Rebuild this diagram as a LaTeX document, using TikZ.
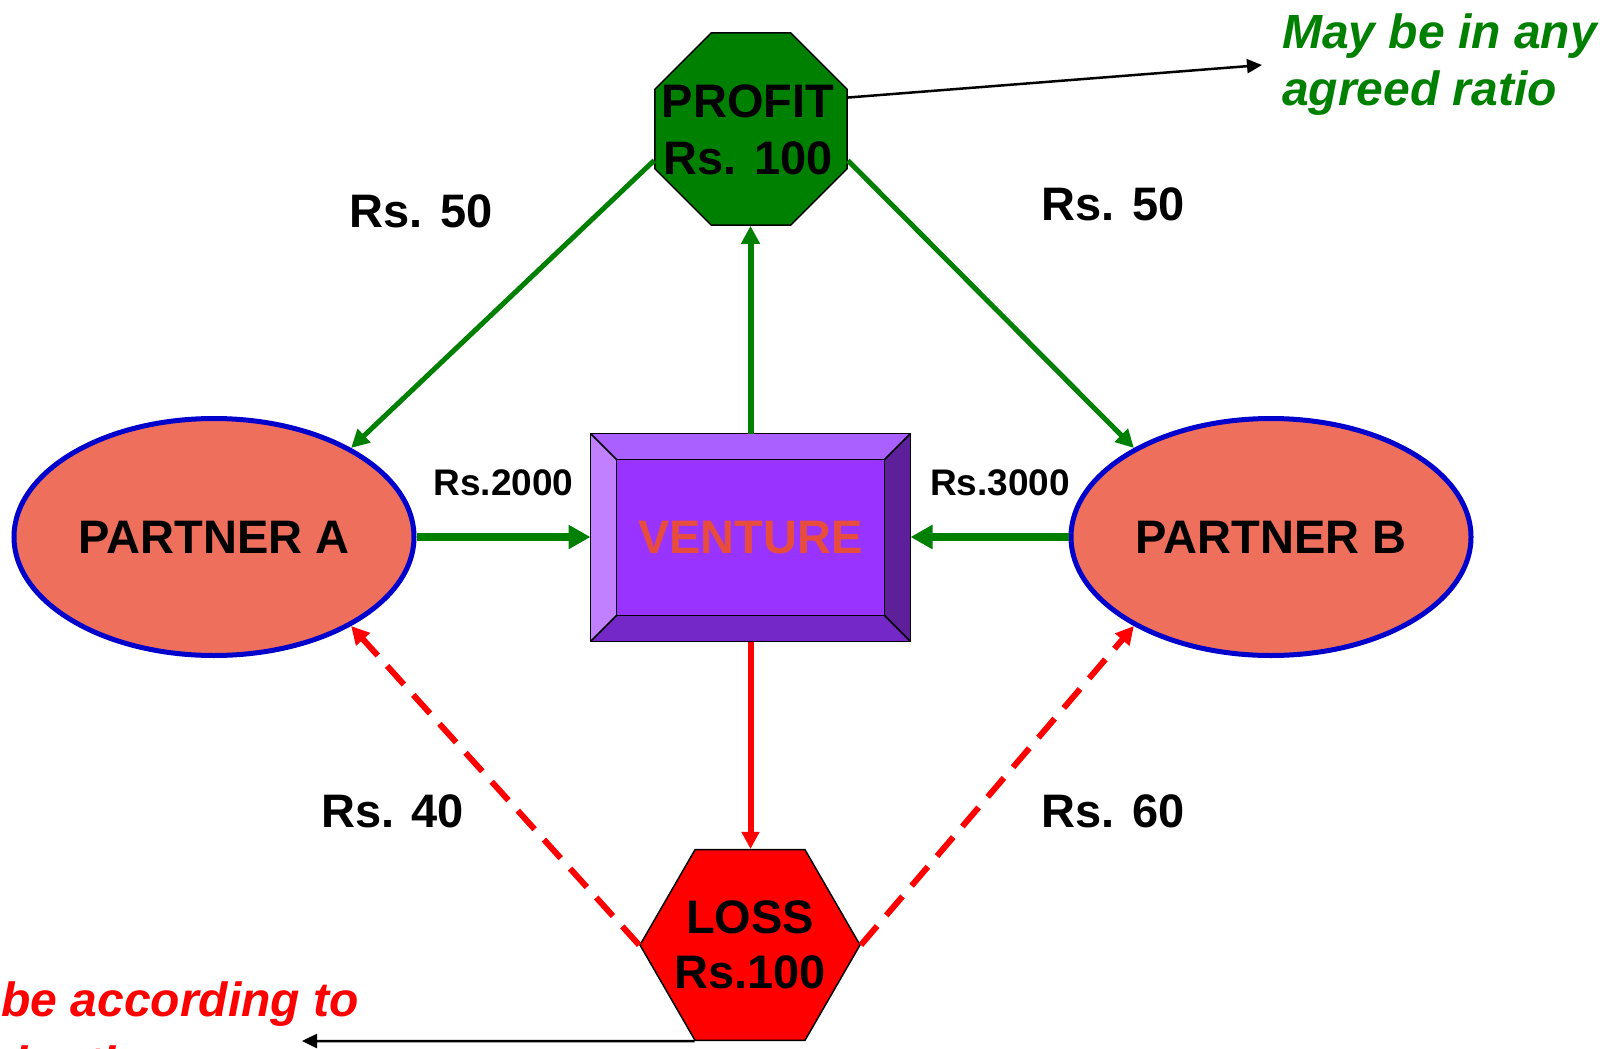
\documentclass[tikz,border=0pt]{standalone}
\usepackage{fontspec}
\setmainfont{Liberation Sans}
\usetikzlibrary{shapes.geometric,arrows.meta,calc}

\definecolor{leafgreen}{HTML}{008000}
\definecolor{partnerfill}{HTML}{EE6F5C}
\definecolor{partnerline}{HTML}{0000CC}
\definecolor{bevtop}{HTML}{AA5FFF}
\definecolor{bevleft}{HTML}{C080FF}
\definecolor{bevright}{HTML}{5E1F9A}
\definecolor{bevbottom}{HTML}{7428C8}
\definecolor{bevface}{HTML}{9933FF}
\definecolor{venturetext}{HTML}{E84C3C}
\definecolor{lossred}{HTML}{FF0000}

\begin{document}
\begin{tikzpicture}[x=1pt,y=-1pt,
  bigtext/.style={font=\fontsize{47}{57}\selectfont\bfseries},
  amounttext/.style={font=\fontsize{37}{44}\selectfont\bfseries, anchor=base},
  notetext/.style={font=\fontsize{48}{57}\selectfont\bfseries\itshape, align=left, inner sep=0pt, anchor=north west},
  partner/.style={ellipse, draw=partnerline, line width=5pt, fill=partnerfill,
    minimum width=400pt, minimum height=237pt, inner sep=0pt, bigtext},
  venturebox/.style={rectangle, draw=black, line width=1.5pt, fill=bevface,
    minimum width=320pt, minimum height=208pt, inner sep=0pt, outer sep=0pt,
    text=venturetext, bigtext},
  profitshape/.style={regular polygon, regular polygon sides=8, minimum size=208pt,
    inner sep=0pt, draw=black, line width=1.5pt, fill=leafgreen},
  lossshape/.style={regular polygon, regular polygon sides=6, minimum size=220pt,
    inner sep=0pt, draw=black, line width=1.5pt, fill=lossred},
  bevelline/.style={draw=black, line width=1.5pt, line join=round},
  greenarrow/.style={draw=leafgreen, line width=5pt, -{Triangle[length=18pt,width=18pt]}},
  bigarrow/.style={draw=leafgreen, line width=8pt, -{Triangle[length=22pt,width=23pt]}},
  redarrow/.style={draw=lossred, line width=6pt, -{Triangle[length=17pt,width=17pt]}},
  reddashed/.style={draw=lossred, line width=6pt, dash pattern=on 25pt off 14pt,
    -{Triangle[length=18pt,width=18pt]}},
  notearrow/.style={draw=black, line width=2.5pt, -{Triangle[length=15pt,width=14pt]}}
]
\useasboundingbox (0,0) rectangle (1609,1049);
\clip (0,0) rectangle (1609,1049);

% partners
\node[partner] (partnerA) at (214,537) {PARTNER A};
\node[partner] (partnerB) at (1271,537) {PARTNER B};

% bevelled venture box
\node[venturebox] (venture) at (750.5,537.5) {VENTURE};
\fill[bevtop] (venture.north west) -- (venture.north east)
  -- ($(venture.north east)+(-26,26)$) -- ($(venture.north west)+(26,26)$) -- cycle;
\fill[bevleft] (venture.north west) -- ($(venture.north west)+(26,26)$)
  -- ($(venture.south west)+(26,-26)$) -- (venture.south west) -- cycle;
\fill[bevright] (venture.north east) -- (venture.south east)
  -- ($(venture.south east)+(-26,-26)$) -- ($(venture.north east)+(-26,26)$) -- cycle;
\fill[bevbottom] (venture.south west) -- (venture.south east)
  -- ($(venture.south east)+(-26,-26)$) -- ($(venture.south west)+(26,-26)$) -- cycle;
\draw[bevelline] ($(venture.north west)+(26,26)$) rectangle ($(venture.south east)+(-26,-26)$);
\draw[bevelline] (venture.north west) -- ($(venture.north west)+(26,26)$);
\draw[bevelline] (venture.north east) -- ($(venture.north east)+(-26,26)$);
\draw[bevelline] (venture.south west) -- ($(venture.south west)+(26,-26)$);
\draw[bevelline] (venture.south east) -- ($(venture.south east)+(-26,-26)$);
\draw[bevelline] (venture.north west) rectangle (venture.south east);

% profit and loss
\node[profitshape] (profit) at (751,129) {};
\node[bigtext, align=center, inner sep=0pt] (profitlabel) at (748,130) {PROFIT\\Rs. 100};
\node[lossshape] (loss) at (750,945) {};
\node[font=\fontsize{47}{55}\selectfont\bfseries, align=center, inner sep=0pt] (losslabel) at (750,945) {LOSS\\Rs.100};

% capital and profit flows
\draw[greenarrow, line width=6pt] (venture.north) -- (venture.north |- profit.south);
\draw[greenarrow] (profit.198) -- (partnerA.33);
\draw[greenarrow] (profit.-18) -- (partnerB.147);
\draw[bigarrow] (partnerA.east) -- (partnerA.east -| venture.west);
\draw[bigarrow] (partnerB.west) -- (partnerB.west -| venture.east);

% loss flows
\draw[redarrow] (venture.south) -- (venture.south |- loss.north);
\draw[reddashed] (loss.west) -- (partnerA.-33);
\draw[reddashed] (loss.east) -- (partnerB.213);

% amounts
\node[bigtext, anchor=base] (shareA) at (421,227) {Rs. 50};
\node[bigtext, anchor=base] (shareB) at (1113,220) {Rs. 50};
\node[bigtext, anchor=base] (lossA) at (392.5,827) {Rs. 40};
\node[bigtext, anchor=base] (lossB) at (1113,827) {Rs. 60};
\node[amounttext] (capitalA) at (503.5,495) {Rs.2000};
\node[amounttext] (capitalB) at (1000,495) {Rs.3000};

% notes
\coordinate (ratiotip) at (1262,65);
\draw[notearrow] (profit.18) -- (ratiotip);
\node[notetext, text=leafgreen] (profitnote) at (1282,14) {May be in any\\agreed ratio};

\coordinate (lossnotetip) at (302,1041);
\draw[notearrow] (loss.240) -- (lossnotetip);
\node[notetext, text=lossred] (lossnote) at (-124,982) {Must be according to\\[7pt]capital ratio};
\end{tikzpicture}
\end{document}
